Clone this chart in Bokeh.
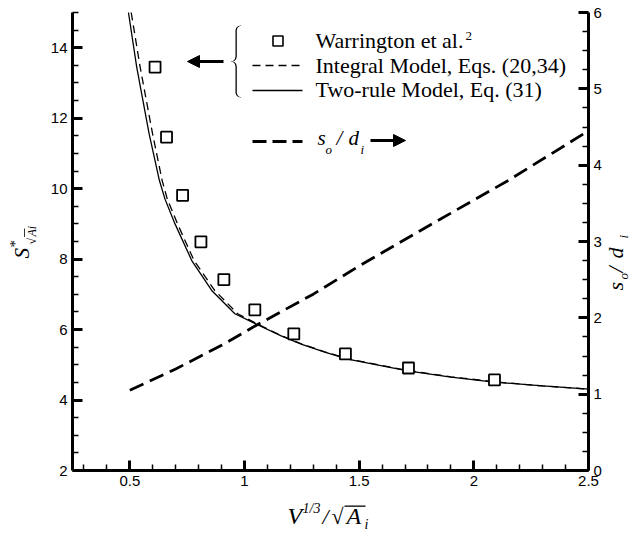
import math
from bokeh.plotting import figure
from bokeh.models import (Range1d, LinearAxis, FixedTicker, Label, Arrow, NormalHead,
                          PolyAnnotation, BoxAnnotation, NumeralTickFormatter)
from bokeh.embed import file_html
from bokeh.resources import INLINE

# ---------------- data ----------------
warr_x = [0.61, 0.66, 0.73, 0.81, 0.91, 1.045, 1.215, 1.44, 1.715, 2.09]
warr_y = [13.45, 11.46, 9.81, 8.49, 7.42, 6.56, 5.88, 5.31, 4.91, 4.57]

two_rule_x = [0.494, 0.53, 0.584, 0.629, 0.653, 0.697, 0.77, 0.857, 0.958, 1.059,
              1.16, 1.25, 1.35, 1.45, 1.6, 1.712, 1.9, 2.088, 2.3, 2.5]
two_rule_y = [15.0, 13.45, 11.56, 10.23, 9.71, 9.0, 7.96, 7.11, 6.45, 6.13,
              5.82, 5.58, 5.36, 5.16, 4.97, 4.83, 4.65, 4.51, 4.40, 4.31]

integral_x = [0.506, 0.545, 0.599, 0.641, 0.663, 0.708, 0.78, 0.87, 0.97, 1.065,
              1.16, 1.25, 1.35, 1.45, 1.6, 1.712, 1.9, 2.088, 2.3, 2.5]
integral_y = [15.0, 13.45, 11.56, 10.23, 9.71, 9.0, 7.96, 7.11, 6.45, 6.13,
              5.83, 5.59, 5.37, 5.17, 4.98, 4.84, 4.66, 4.52, 4.40, 4.31]

sod_x = [0.5, 0.7, 0.9, 1.05, 1.3, 1.5, 1.8, 2.15, 2.5]
sod_r = [1.05, 1.33, 1.64, 1.90, 2.31, 2.68, 3.20, 3.80, 4.45]

x_ticks = [0.5, 1.0, 1.5, 2.0, 2.5]
x_minor = [0.3, 0.4, 0.6, 0.7, 0.8, 0.9, 1.1, 1.2, 1.3, 1.4, 1.6, 1.7, 1.8, 1.9,
           2.1, 2.2, 2.3, 2.4]
left_ticks = [2, 4, 6, 8, 10, 12, 14]
left_minor = [2.5, 3, 3.5, 4.5, 5, 5.5, 6.5, 7, 7.5, 8.5, 9, 9.5, 10.5, 11, 11.5,
              12.5, 13, 13.5, 14.5, 15]
right_ticks = [0, 1, 2, 3, 4, 5, 6]
right_minor = [0.25, 0.5, 0.75, 1.25, 1.5, 1.75, 2.25, 2.5, 2.75, 3.25, 3.5, 3.75,
               4.25, 4.5, 4.75, 5.25, 5.5, 5.75]

X_LIM = (0.25, 2.5)
Y_LIM = (2, 15)
R_LIM = (0, 6)

legend_texts = ["Warrington et al.", "Integral Model, Eqs. (20,34)",
                "Two-rule Model, Eq. (31)"]

# ---------------- layout: the frame fills the canvas, axes are pinned ----------------
W, H = 632, 531
PL, PR, PT, PB = 72, 588, 12, 470   # axis box in page pixels


def span(lo, hi, p0, p1, c0, c1):
    k = (hi - lo) / (p1 - p0)
    return lo - (p0 - c0) * k, hi + (c1 - p1) * k


xs0, xs1 = span(X_LIM[0], X_LIM[1], PL, PR, 0, W)
ys0, ys1 = span(Y_LIM[0], Y_LIM[1], H - PB, H - PT, 0, H)
rs0, rs1 = span(R_LIM[0], R_LIM[1], H - PB, H - PT, 0, H)

p = figure(width=W, height=H, x_range=Range1d(xs0, xs1), y_range=Range1d(ys0, ys1),
           output_backend="svg", toolbar_location=None,
           min_border_left=0, min_border_right=0, min_border_top=0,
           min_border_bottom=0)
p.extra_y_ranges = {"r": Range1d(rs0, rs1)}
p.grid.visible = False
p.outline_line_color = None
p.background_fill_color = "white"
p.border_fill_color = "white"

raxis = LinearAxis(y_range_name="r")
p.add_layout(raxis, "right")


def style(ax, ticks, minor):
    ax.ticker = FixedTicker(ticks=ticks, minor_ticks=minor)
    ax.axis_line_width = 3
    ax.axis_line_color = "black"
    ax.major_tick_in = 10
    ax.major_tick_out = 0
    ax.minor_tick_in = 6
    ax.minor_tick_out = 0
    ax.major_tick_line_width = 3
    ax.minor_tick_line_width = 1.5
    ax.major_tick_line_color = "black"
    ax.minor_tick_line_color = "black"
    ax.major_label_text_font = "Liberation Sans"
    ax.major_label_text_font_size = "15px"
    ax.major_label_text_color = "black"
    ax.major_label_standoff = 5


xa = p.xaxis[0]
style(xa, x_ticks, x_minor)
xa.formatter = NumeralTickFormatter(format="0.[0]")
xa.fixed_location = Y_LIM[0]
xa.bounds = X_LIM

ya = p.yaxis[0]
style(ya, left_ticks, left_minor)
ya.fixed_location = X_LIM[0]
ya.bounds = Y_LIM

style(raxis, right_ticks, right_minor)
raxis.fixed_location = X_LIM[1]
raxis.bounds = R_LIM

# ---------------- data glyphs ----------------
p.line(two_rule_x, two_rule_y, line_color="black", line_width=1.3)
p.line(integral_x, integral_y, line_color="black", line_width=1.3, line_dash="8 5")
p.line(sod_x, sod_r, y_range_name="r", line_color="black", line_width=2.8,
       line_dash="15 7")
p.scatter(warr_x, warr_y, marker="square", size=11, fill_color="white",
          line_color="black", line_width=1.8)


# ---------------- page-pixel helpers for decorations ----------------
def sx(px):
    return px


def sy(py):
    return H - py


def lab(px, py, txt, size, font="Liberation Serif", style="normal", angle=0.0,
        align="left", baseline="middle"):
    p.add_layout(Label(x=sx(px), y=sy(py), x_units="screen", y_units="screen",
                       text=txt, text_font=font, text_font_size=f"{size}px",
                       text_font_style=style, text_color="black", angle=angle,
                       text_align=align, text_baseline=baseline))


def seg(x0, y0, x1, y1, width, dash="solid", head=None):
    p.add_layout(Arrow(end=head, start=None, x_start=sx(x0), y_start=sy(y0),
                       x_end=sx(x1), y_end=sy(y1), start_units="screen",
                       end_units="screen", line_color="black", line_width=width,
                       line_dash=dash))


def box(x0, y0, x1, y1, fill="black", line=None, lw=1.0):
    p.add_layout(BoxAnnotation(left=sx(x0), right=sx(x1), top=sy(y0), bottom=sy(y1),
                               left_units="screen", right_units="screen",
                               top_units="screen", bottom_units="screen",
                               fill_color=fill, fill_alpha=1.0, line_color=line,
                               line_alpha=1.0, line_width=lw))


# ---------------- legend ----------------
box(272.5, 35.5, 282.5, 45.5, fill="white", line="black", lw=1.6)
lab(315, 40, legend_texts[0], 22)
lab(465, 35, "2", 13)
seg(252, 65, 302, 65, 1.3, "8 5")
lab(315, 65, legend_texts[1], 22)
seg(252, 90, 302, 90, 1.3)
lab(315, 88.5, legend_texts[2], 22)

# brace
brace = [(240, 25), (237.5, 25.7), (235.8, 27.3), (235, 29.5), (235, 56),
         (234.3, 58.8), (232.5, 60.4), (230, 61), (232.5, 61.6), (234.3, 63.2),
         (235, 66), (235, 92.5), (235.8, 94.7), (237.5, 96.3), (240, 97)]
outer = brace + [(bx + 1.3, by) for bx, by in reversed(brace)]
p.add_layout(PolyAnnotation(xs=[sx(a) for a, b in outer], ys=[sy(b) for a, b in outer],
                            xs_units="screen", ys_units="screen",
                            fill_color="black", fill_alpha=1.0, line_color=None))

head = NormalHead(size=12, fill_color="black", line_color="black", line_width=1)
seg(223, 61, 187, 61, 3, head=head)

seg(252, 141, 302, 141, 2.8, "14 6")
lab(317, 137.5, "s", 21, style="italic")
lab(325, 148.5, "o", 13, style="italic")
lab(336, 137.5, "/", 21, style="italic")
lab(348, 137.5, "d", 21, style="italic")
lab(360, 149, "i", 13, style="italic")
head2 = NormalHead(size=12, fill_color="black", line_color="black", line_width=1)
seg(370, 140, 405, 140, 3, head=head2)

# ---------------- axis titles ----------------
# bottom: V^(1/3) / sqrt(A_i)
lab(287, 515, "V", 24, style="italic")
lab(302, 507.5, "1/3", 14, style="italic")
lab(322, 516, "/", 22, style="italic")
lab(331, 516, "√", 22)
box(344, 505, 365, 506.3)
lab(346, 515.5, "A", 24, style="italic")
lab(364, 524, "i", 14, style="italic")

# left: S*_sqrt(Ai)
A90 = math.pi / 2
lab(21, 258, "S", 21, style="italic", angle=A90)
lab(14, 247, "*", 15, angle=A90)
lab(31, 244, "√", 12, angle=A90)
box(23.5, 228, 24.3, 236.5)
lab(31, 236, "Ai", 12, style="italic", angle=A90)

# right: s_o / d_i
lab(614.5, 290, "s", 22, style="italic", angle=A90)
lab(623, 279, "o", 13, style="italic", angle=A90)
lab(614.5, 272, "/", 22, style="italic", angle=A90)
lab(614.5, 258, "d", 22, style="italic", angle=A90)
lab(622.5, 238, "i", 13, style="italic", angle=A90)

open("out.html", "w").write(file_html(p, INLINE))
